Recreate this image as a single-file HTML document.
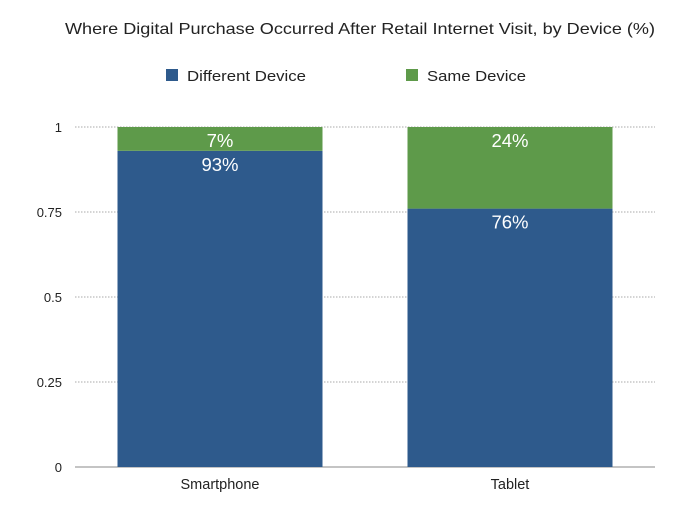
<!DOCTYPE html>
<html><head><meta charset="utf-8"><style>
body{margin:0;background:#fff;font-family:"Liberation Sans",sans-serif;}
svg text{font-family:"Liberation Sans",sans-serif;}
</style></head><body>
<svg width="690" height="510" xmlns="http://www.w3.org/2000/svg">
<text x="65" y="34" font-size="16" textLength="590" lengthAdjust="spacingAndGlyphs" fill="#222">Where Digital Purchase Occurred After Retail Internet Visit, by Device (%)</text>
<g>
<rect x="166" y="69" width="12" height="12" fill="#2e5a8c"/>
<text x="187" y="81" font-size="15" textLength="119" lengthAdjust="spacingAndGlyphs" fill="#222">Different Device</text>
<rect x="406" y="69" width="12" height="12" fill="#5e9a4a"/>
<text x="427" y="81" font-size="15" textLength="99" lengthAdjust="spacingAndGlyphs" fill="#222">Same Device</text>
</g>
<g id="grid"></g><g id="bars"></g><g id="labels"></g>
</svg>
<script>
const categories=["Smartphone","Tablet"];
const differentDevice=[0.93,0.76];
const sameDevice=[0.07,0.24];
const tickValues=[0,0.25,0.5,0.75,1];
const tickLabels=["0","0.25","0.5","0.75","1"];
const NS="http://www.w3.org/2000/svg";
const L=75,R=655,Y0=467,Y1=127;
const y=v=>Y0-(Y0-Y1)*v;
const band=(R-L)/categories.length;
const xc=i=>L+band*(i+0.5);
const bw=205;
function mk(t,a,p){const e=document.createElementNS(NS,t);for(const k in a)e.setAttribute(k,a[k]);p.appendChild(e);return e;}
const g=document.getElementById('grid'),b=document.getElementById('bars'),lb=document.getElementById('labels');
tickValues.forEach((v,i)=>{
 const ln=mk('line',{x1:L,x2:R,y1:y(v),y2:y(v),stroke:v===0?'#888':'#aaa','stroke-dasharray':v===0?'':'1.5,1.5','stroke-width':1},g);
 
 
 const t=mk('text',{x:62,y:y(v)+5,'text-anchor':'end','font-size':13,fill:'#222'},g);
 t.textContent=tickLabels[i];
 
 
});
categories.forEach((c,i)=>{
 const x=xc(i)-bw/2;
 const r1=mk('rect',{x:x,y:y(differentDevice[i]),width:bw,height:y(0)-y(differentDevice[i]),fill:'#2e5a8c'},b);
 
 
 const top=differentDevice[i]+sameDevice[i];
 const r2=mk('rect',{x:x,y:y(top),width:bw,height:y(differentDevice[i])-y(top),fill:'#5e9a4a'},b);
 
 
 const t1=mk('text',{x:xc(i),y:y(differentDevice[i])+20,'text-anchor':'middle','font-size':18.5,fill:'#fff'},lb);
 t1.textContent=Math.round(differentDevice[i]*100)+'%';
 
 
 const t2=mk('text',{x:xc(i),y:y(top)+20,'text-anchor':'middle','font-size':18.5,fill:'#fff'},lb);
 t2.textContent=Math.round(sameDevice[i]*100)+'%';
 
 
 const t3=mk('text',{x:xc(i),y:489,'text-anchor':'middle','font-size':14.5,fill:'#222'},lb);
 t3.textContent=c;
 
 
});
</script>
</body></html>
